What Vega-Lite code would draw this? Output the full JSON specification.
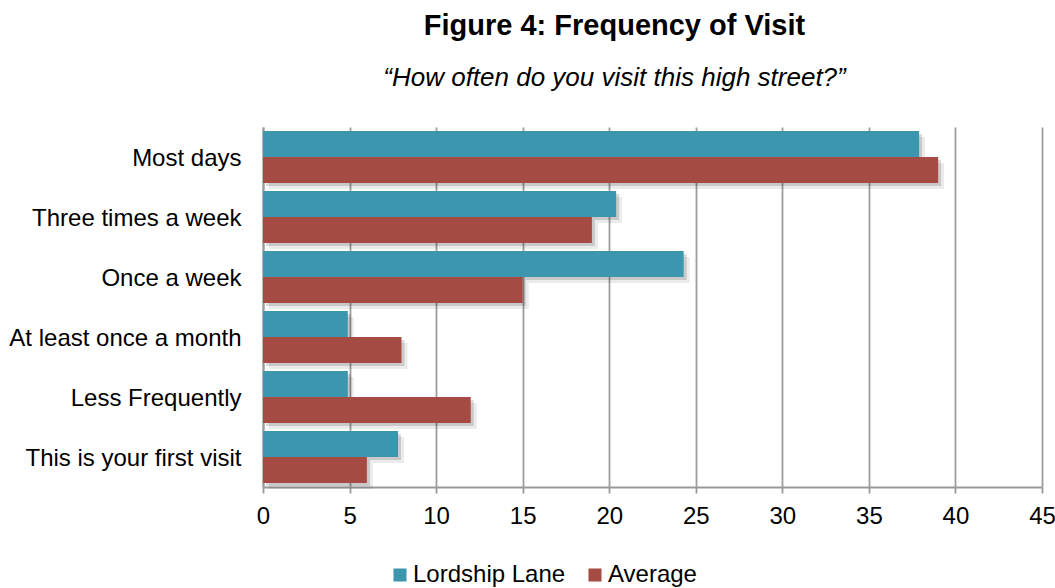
{
  "$schema": "https://vega.github.io/schema/vega-lite/v6.json",
  "width": 779,
  "height": 360,
  "autosize": {"type": "none"},
  "padding": {"left": 263, "top": 127, "right": 13, "bottom": 101},
  "background": "white",
  "config": {
    "font": "Liberation Sans",
    "view": {"stroke": null}
  },
  "title": {
    "text": "Figure 4: Frequency of Visit",
    "subtitle": "“How often do you visit this high street?”",
    "anchor": "middle",
    "frame": "group",
    "dx": -38,
    "offset": 36,
    "font": "Liberation Sans",
    "fontSize": 29,
    "fontWeight": "bold",
    "color": "#000000",
    "subtitleFont": "Liberation Sans",
    "subtitleFontSize": 26,
    "subtitleFontStyle": "italic",
    "subtitleColor": "#000000",
    "subtitlePadding": 24
  },
  "data": {
    "values": [
      {"frequency": "Most days", "series": "Lordship Lane", "percent": 37.9},
      {"frequency": "Most days", "series": "Average", "percent": 39.0},
      {"frequency": "Three times a week", "series": "Lordship Lane", "percent": 20.4},
      {"frequency": "Three times a week", "series": "Average", "percent": 19.0},
      {"frequency": "Once a week", "series": "Lordship Lane", "percent": 24.3},
      {"frequency": "Once a week", "series": "Average", "percent": 15.0},
      {"frequency": "At least once a month", "series": "Lordship Lane", "percent": 4.9},
      {"frequency": "At least once a month", "series": "Average", "percent": 8.0},
      {"frequency": "Less Frequently", "series": "Lordship Lane", "percent": 4.9},
      {"frequency": "Less Frequently", "series": "Average", "percent": 12.0},
      {"frequency": "This is your first visit", "series": "Lordship Lane", "percent": 7.8},
      {"frequency": "This is your first visit", "series": "Average", "percent": 6.0}
    ]
  },
  "encoding": {
    "y": {
      "field": "frequency",
      "type": "nominal",
      "sort": ["Most days", "Three times a week", "Once a week", "At least once a month", "Less Frequently", "This is your first visit"],
      "scale": {"paddingInner": 0.13, "paddingOuter": 0.065},
      "axis": {
        "title": null,
        "ticks": false,
        "labelFontSize": 24,
        "labelColor": "#000000",
        "labelPadding": 22,
        "labelOffset": 2,
        "labelLimit": 300,
        "domainColor": "#999999",
        "domainWidth": 2
      }
    },
    "x": {
      "field": "percent",
      "type": "quantitative",
      "scale": {"domain": [0, 45], "nice": false},
      "axis": {
        "title": null,
        "values": [0, 5, 10, 15, 20, 25, 30, 35, 40, 45],
        "grid": true,
        "gridColor": "#9d9d9d",
        "gridWidth": 1.8,
        "domainColor": "#999999",
        "domainWidth": 2,
        "tickColor": "#999999",
        "tickWidth": 1.8,
        "tickSize": 6,
        "labelFontSize": 24,
        "labelColor": "#000000",
        "labelPadding": 11,
        "labelFlush": false
      }
    }
  },
  "resolve": {"scale": {"yOffset": "independent"}},
  "layer": [
    {
      "mark": {"type": "bar", "color": "#000000", "opacity": 0.08, "xOffset": 6},
      "encoding": {
        "yOffset": {
          "field": "series",
          "type": "nominal",
          "sort": ["Lordship Lane", "Average"],
          "scale": {"range": [6, 58.2], "paddingInner": 0, "paddingOuter": 0}
        }
      }
    },
    {
      "mark": {"type": "bar", "color": "#000000", "opacity": 0.14, "xOffset": 3},
      "encoding": {
        "yOffset": {
          "field": "series",
          "type": "nominal",
          "sort": ["Lordship Lane", "Average"],
          "scale": {"range": [3, 55.2], "paddingInner": 0, "paddingOuter": 0}
        }
      }
    },
    {
      "mark": {"type": "bar"},
      "encoding": {
        "yOffset": {
          "field": "series",
          "type": "nominal",
          "sort": ["Lordship Lane", "Average"],
          "scale": {"paddingInner": 0, "paddingOuter": 0}
        },
        "color": {
          "field": "series",
          "type": "nominal",
          "sort": ["Lordship Lane", "Average"],
          "scale": {"domain": ["Lordship Lane", "Average"], "range": ["#3c96ad", "#a64b44"]},
          "legend": {
            "title": null,
            "orient": "none",
            "direction": "horizontal",
            "legendX": 125,
            "legendY": 436,
            "symbolType": "square",
            "symbolSize": 170,
            "symbolOpacity": 1,
            "symbolStrokeWidth": 0,
            "labelFontSize": 24,
            "labelColor": "#000000",
            "labelOffset": 1,
            "columnPadding": 17
          }
        }
      }
    }
  ]
}
